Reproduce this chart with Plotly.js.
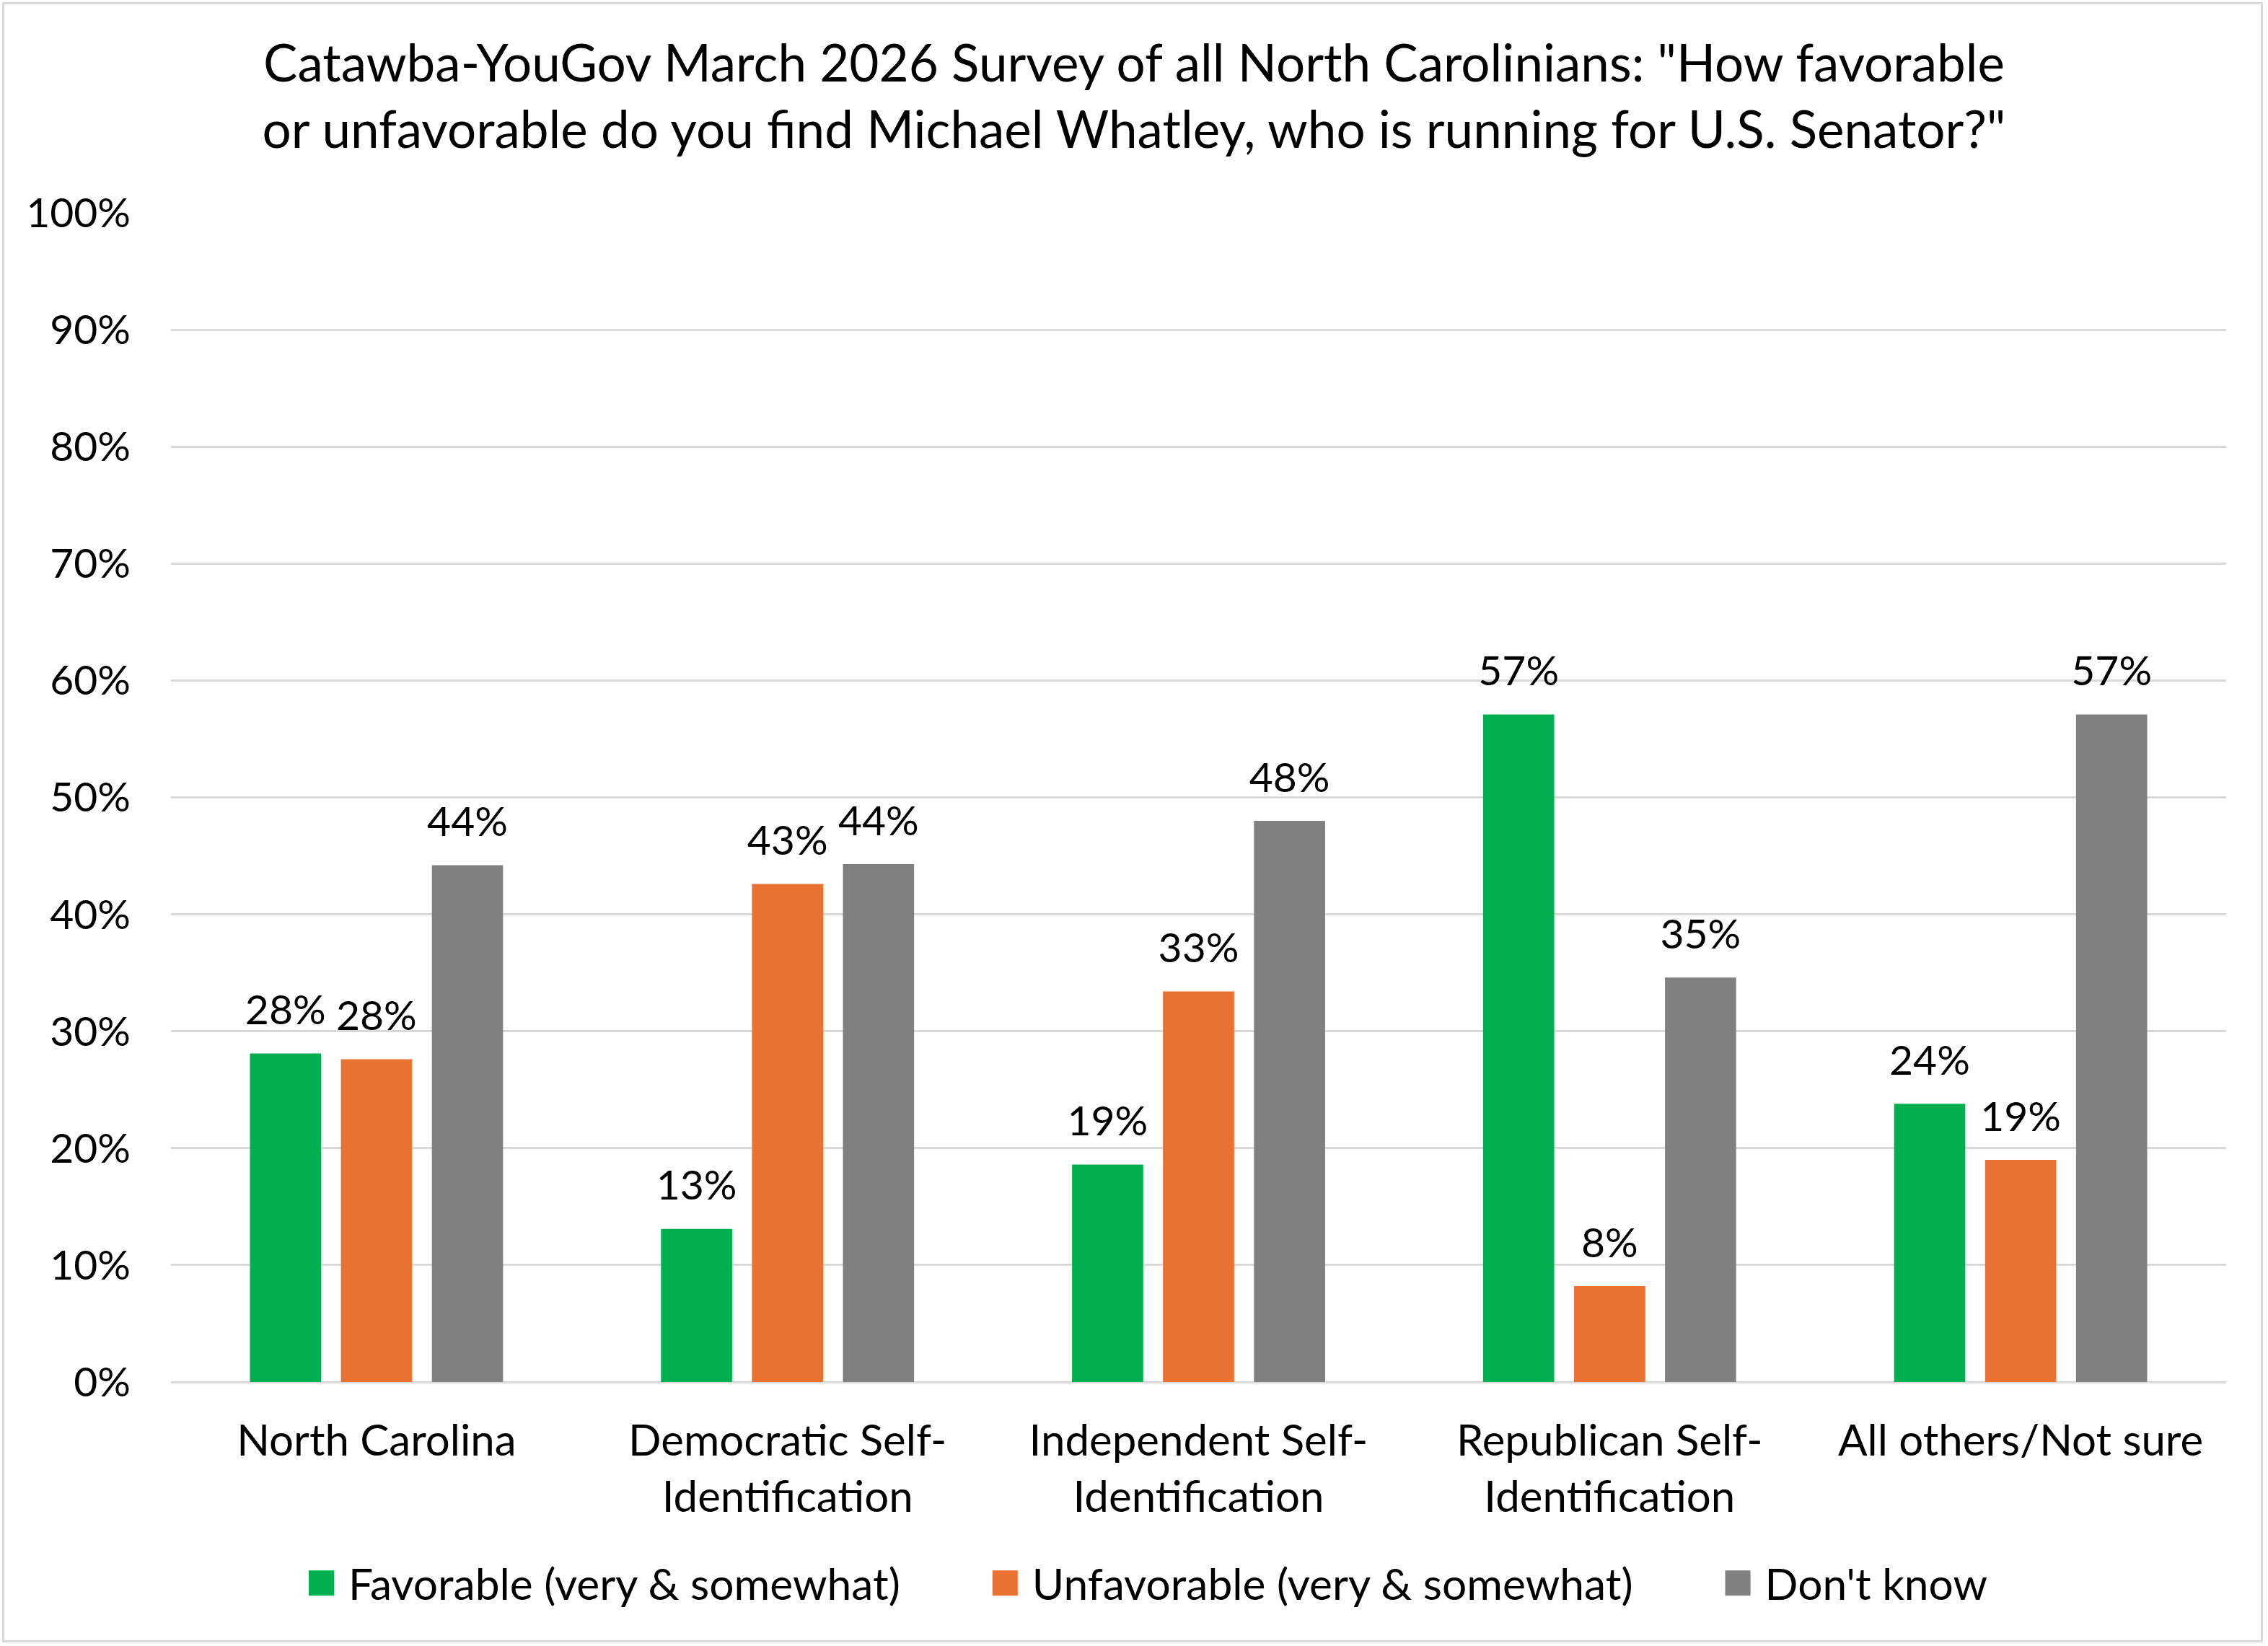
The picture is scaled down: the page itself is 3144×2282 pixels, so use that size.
<!DOCTYPE html>
<html>
<head>
<meta charset="utf-8">
<script src="https://cdn.plot.ly/plotly-3.0.1.min.js"></script>
<style>
  html, body { margin: 0; padding: 0; background: #ffffff; }
  #chart { position: absolute; left: 0; top: 0; width: 3144px; height: 2282px; }
  #frame { position: absolute; left: 3px; top: 3px; width: 3128px; height: 2268px;
           border: 3px solid #D9D9D9; pointer-events: none; }
</style>
</head>
<body>
<div id="chart"></div>
<div id="frame"></div>
<script>
// ---- data ----
const categories = [
  'North Carolina',
  'Democratic Self-<br>Identification',
  'Independent Self-<br>Identification',
  'Republican Self-<br>Identification',
  'All others/Not sure'
];
const seriesNames = ['Favorable (very & somewhat)', 'Unfavorable (very & somewhat)', "Don't know"];
const favorable   = [28.1, 13.1, 18.6, 57.1, 23.8];
const unfavorable = [27.6, 42.6, 33.4, 8.2, 19.0];
const dontKnow    = [44.2, 44.3, 48.0, 34.6, 57.1];
const yTickVals   = [0, 10, 20, 30, 40, 50, 60, 70, 80, 90, 100];
const titleText = 'Catawba-YouGov March 2026 Survey of all North Carolinians: "How favorable<br>or unfavorable do you find Michael Whatley, who is running for U.S. Senator?"';

// ---- style ----
const colors = ['#00B050', '#E97132', '#808080'];
const FONT = 'Lato, "Open Sans", sans-serif';
const seriesValues = [favorable, unfavorable, dontKnow];

const traces = [];
seriesValues.forEach((vals, i) => {
  traces.push({
    type: 'bar',
    name: seriesNames[i],
    x: categories,
    y: vals,
    marker: { color: colors[i] },
    hoverinfo: 'skip'
  });
});
// data labels drawn as grouped text traces so they align over the bars
seriesValues.forEach((vals, i) => {
  traces.push({
    type: 'scatter',
    mode: 'markers+text',
    x: categories,
    y: vals,
    text: vals.map(v => Math.round(v) + '%'),
    textposition: 'top center',
    textfont: { family: FONT, size: 57, color: '#000000' },
    marker: { size: 40, opacity: 0, color: colors[i] },
    showlegend: false,
    hoverinfo: 'skip',
    cliponaxis: false
  });
});

const layout = {
  width: 3144,
  height: 2282,
  paper_bgcolor: '#ffffff',
  plot_bgcolor: '#ffffff',
  margin: { l: 237, r: 58, t: 295, b: 366, pad: 0 },
  barmode: 'group',
  bargap: 0.336,
  bargroupgap: 0.218,
  scattermode: 'group',
  scattergap: 0.336,
  font: { family: FONT, size: 60, color: '#000000' },
  title: {
    text: titleText,
    font: { family: FONT, size: 71, color: '#000000' },
    x: 0.5, xref: 'container', xanchor: 'center',
    y: 1 - 113 / 2282, yref: 'container', yanchor: 'middle'
  },
  xaxis: {
    type: 'category',
    showgrid: false,
    showline: false,
    zeroline: false,
    ticks: '',
    tickfont: { family: FONT, size: 60, color: '#000000' },
    ticklabelstandoff: 41,
    fixedrange: true
  },
  yaxis: {
    range: [0, 100],
    tickvals: yTickVals,
    ticktext: yTickVals.map(v => v + '%'),
    showgrid: true,
    gridcolor: '#D9D9D9',
    gridwidth: 3,
    zeroline: true,
    zerolinecolor: '#D9D9D9',
    zerolinewidth: 3,
    showline: false,
    ticks: '',
    tickfont: { family: FONT, size: 57, color: '#000000' },
    ticklabelstandoff: 55,
    fixedrange: true
  },
  showlegend: true,
  legend: {
    orientation: 'h',
    x: (305 - 237) / 2849, xanchor: 'left',
    y: (1916 - 2195) / 1621, yanchor: 'middle',
    font: { family: FONT, size: 60.5, color: '#000000' },
    itemwidth: 168,
    bgcolor: 'rgba(0,0,0,0)'
  }
};

Plotly.newPlot('chart', traces, layout, { staticPlot: true, displayModeBar: false }).then(() => {
  // legend swatches: 35px squares placed 20px left of the entry text
  document.querySelectorAll('.legend .legendpoints path').forEach(p => {
    p.setAttribute('transform', 'translate(140.5,0) scale(2.92)');
  });
});
</script>
</body>
</html>
